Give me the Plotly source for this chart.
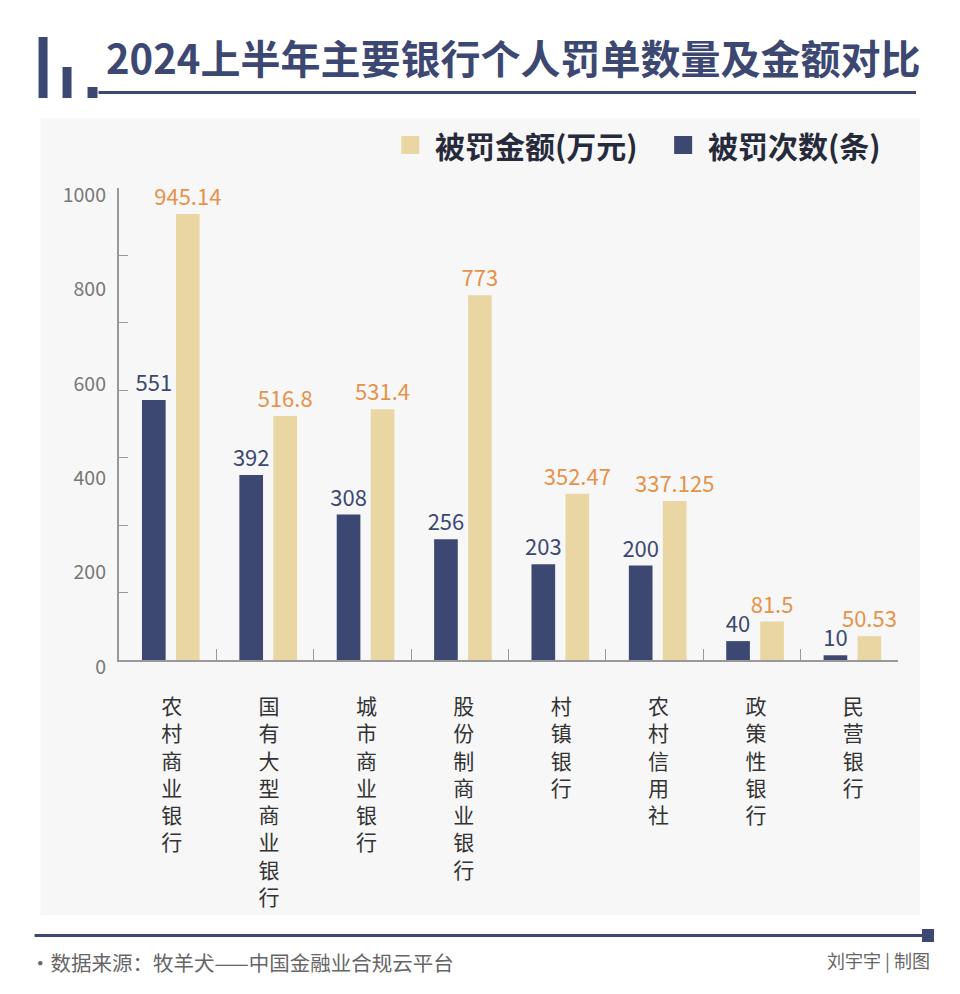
import plotly.graph_objects as go

# ---- data ----
categories = ["农村商业银行", "国有大型商业银行", "城市商业银行", "股份制商业银行",
              "村镇银行", "农村信用社", "政策性银行", "民营银行"]
penalty_count = [551, 392, 308, 256, 203, 200, 40, 10]
penalty_amount = [945.14, 516.8, 531.4, 773, 352.47, 337.125, 81.5, 50.53]
series_names = ["被罚次数(条)", "被罚金额(万元)"]
y_label_vals = [0, 200, 400, 600, 800, 1000]
y_mark_count = 7  # tick marks split 0-1000 into 7 equal parts

NAVY = "#3c4872"
GOLD = "#e9d6a3"
ORANGE = "#e6924a"
FONT = "Noto Sans CJK SC"

# plot area in pixels
W, H = 960, 994
L, R, T, B = 118.5, 898, 188, 660


def px(x):
    return (x - L) / (R - L)


def py(y):
    return (B - y) / (B - T)


fig = go.Figure()
fig.add_trace(go.Bar(
    name=series_names[0], x=categories, y=penalty_count,
    marker=dict(color=NAVY, line=dict(width=0)),
    offset=-0.264, width=0.243,
    text=[f"{v:g}" for v in penalty_count], textposition="outside",
    textfont=dict(family=FONT, size=22, color=NAVY),
    cliponaxis=False, constraintext="none", showlegend=False,
))
fig.add_trace(go.Bar(
    name=series_names[1], x=categories, y=penalty_amount, yaxis="y2",
    marker=dict(color=GOLD, line=dict(width=0)),
    offset=0.085, width=0.243,
    text=[f"{v:g}" for v in penalty_amount], textposition="outside",
    textfont=dict(family=FONT, size=22, color=ORANGE),
    cliponaxis=False, constraintext="none", showlegend=False,
))

tick_marks = [1000 * k / y_mark_count for k in range(y_mark_count + 1)]

fig.update_layout(
    width=W, height=H, autosize=False,
    margin=dict(l=L, r=W - R, t=T, b=H - B, pad=0),
    paper_bgcolor="white", plot_bgcolor="rgba(0,0,0,0)",
    barmode="overlay",
    font=dict(family=FONT),
    showlegend=False,
    xaxis=dict(
        type="category", categoryorder="array", categoryarray=categories,
        tickmode="array", tickvals=categories,
        ticktext=["<br>".join(list(c)) for c in categories],
        tickson="boundaries", ticks="inside", ticklen=11, tickwidth=1.2,
        tickcolor="#999999", showline=True, linecolor="#999999", linewidth=1.5,
        showgrid=False, zeroline=False, ticklabelstandoff=27, ticklabelshift=4,
        tickfont=dict(family=FONT, size=21, color="#333333"), tickangle=0,
        range=[-0.5, len(categories) - 0.5],
    ),
    yaxis=dict(
        range=[0, 1000], tickmode="array", tickvals=tick_marks,
        showticklabels=False, ticks="inside", ticklen=9, tickwidth=1.2,
        tickcolor="#999999", showline=True, linecolor="#999999", linewidth=1.5,
        showgrid=False, zeroline=False,
    ),
    yaxis2=dict(
        range=[0, 1000], overlaying="y", side="left", tickmode="array",
        tickvals=y_label_vals, ticktext=[str(v) for v in y_label_vals],
        ticks="", showline=False, showgrid=False, zeroline=False,
        ticklabelstandoff=12, ticklabelshift=7,
        tickfont=dict(family=FONT, size=19.5, color="#777777"),
    ),
)


def rect(x0, y0, x1, y1, color, layer="above"):
    fig.add_shape(type="rect", xref="paper", yref="paper",
                  x0=px(x0), x1=px(x1), y0=py(y1), y1=py(y0),
                  fillcolor=color, line=dict(width=0), layer=layer)


# background panel
rect(40, 118, 920, 915, "#f7f7f8", layer="below")
# title decorations
rect(38, 37, 47, 98, NAVY)
rect(62, 67, 71, 98, NAVY)
rect(87, 87, 97, 98, NAVY)
rect(98, 91, 916, 94, NAVY)
# footer line
rect(34, 934, 922, 937, NAVY)
rect(922, 929, 934, 942, NAVY)

# legend (gold first, then navy)
legend_items = [(series_names[1], GOLD, 401), (series_names[0], NAVY, 674)]
for name, color, x0 in legend_items:
    rect(x0, 136, x0 + 18, 154, color)
    fig.add_annotation(xref="paper", yref="paper", x=px(x0 + 32), y=py(145),
                       xanchor="left", yanchor="middle", showarrow=False,
                       text=f"<b>{name}</b>",
                       font=dict(family=FONT, size=30, color="#262a3a"))

fig.add_annotation(xref="paper", yref="paper", x=px(103), y=py(57),
                   xanchor="left", yanchor="middle", showarrow=False,
                   text="<b>2024上半年主要银行个人罚单数量及金额对比</b>",
                   font=dict(family=FONT, size=40, color=NAVY))
fig.add_annotation(xref="paper", yref="paper", x=px(27), y=py(962),
                   xanchor="left", yanchor="middle", showarrow=False,
                   text="·数据来源：牧羊犬——中国金融业合规云平台",
                   font=dict(family=FONT, size=20.5, color="#666666"))
fig.add_annotation(xref="paper", yref="paper", x=px(932), y=py(960),
                   xanchor="right", yanchor="middle", showarrow=False,
                   text="刘宇宇 | 制图",
                   font=dict(family=FONT, size=18, color="#666666"))

fig.write_html("out.html", config={"displayModeBar": False},
               post_script="document.body.style.margin='0';")
